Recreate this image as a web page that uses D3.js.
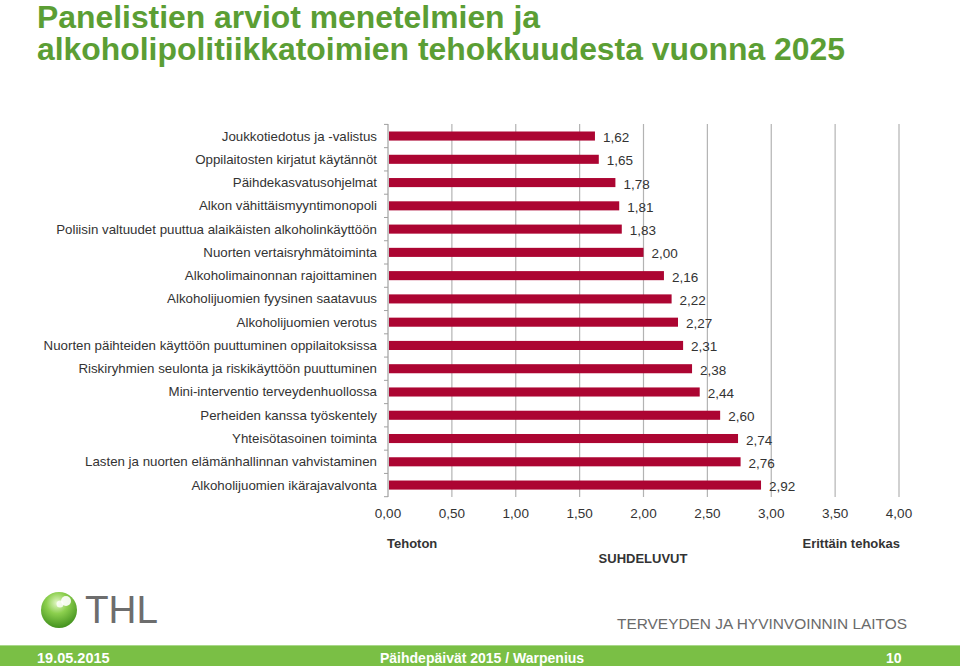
<!DOCTYPE html>
<html><head><meta charset="utf-8">
<script src="https://cdn.jsdelivr.net/npm/d3@7"></script>
<style>
html,body{margin:0;padding:0;background:#fff;}
svg{display:block;font-family:"Liberation Sans",Arial,sans-serif;}
</style></head>
<body>
<svg id="c" width="960" height="666"></svg>
<script>
const categories = [
  "Joukkotiedotus ja -valistus",
  "Oppilaitosten kirjatut käytännöt",
  "Päihdekasvatusohjelmat",
  "Alkon vähittäismyyntimonopoli",
  "Poliisin valtuudet puuttua alaikäisten alkoholinkäyttöön",
  "Nuorten vertaisryhmätoiminta",
  "Alkoholimainonnan rajoittaminen",
  "Alkoholijuomien fyysinen saatavuus",
  "Alkoholijuomien verotus",
  "Nuorten päihteiden käyttöön puuttuminen oppilaitoksissa",
  "Riskiryhmien seulonta ja riskikäyttöön puuttuminen",
  "Mini-interventio terveydenhuollossa",
  "Perheiden kanssa työskentely",
  "Yhteisötasoinen toiminta",
  "Lasten ja nuorten elämänhallinnan vahvistaminen",
  "Alkoholijuomien ikärajavalvonta"
];
const values = [1.62,1.65,1.78,1.81,1.83,2.00,2.16,2.22,2.27,2.31,2.38,2.44,2.60,2.74,2.76,2.92];
const xTicks = [0,0.5,1,1.5,2,2.5,3,3.5,4];
const titleLines = ["Panelistien arviot menetelmien ja","alkoholipolitiikkatoimien tehokkuudesta vuonna 2025"];
const titleWidths = [503, 808];

const svg = d3.select("#c");
const fmt = v => d3.format(".2f")(v).replace(".", ",");
const x = d3.scaleLinear().domain([0,4]).range([388,899]);
const y = d3.scaleBand().domain(categories).range([124.4,496.7]).paddingInner(0.61).paddingOuter(0.305);
const green = "#5b9e34";

// Title
svg.selectAll("text.title").data(titleLines).join("text")
  .attr("class","title")
  .attr("x",37).attr("y",(d,i)=>28+i*32)
  .attr("fill",green).attr("font-weight","bold").attr("font-size",31)
  .attr("textLength",(d,i)=>titleWidths[i]).attr("lengthAdjust","spacingAndGlyphs")
  .text(d=>d);

// gridlines
svg.append("g").selectAll("line").data(xTicks.filter(d=>d>0)).join("line")
  .attr("x1",d=>x(d)).attr("x2",d=>x(d))
  .attr("y1",124).attr("y2",497)
  .attr("stroke","#b3b3b3").attr("stroke-width",1.2);

// y axis
const yAxisG = svg.append("g");
yAxisG.append("line").attr("x1",388).attr("x2",388).attr("y1",124).attr("y2",497).attr("stroke","#a0a0a0").attr("stroke-width",1.2);
const bounds = categories.map(c=>y(c)-y.step()*y.paddingInner()/2).concat([496.7]);
yAxisG.selectAll("line.t").data(bounds).join("line").attr("class","t")
  .attr("x1",384).attr("x2",388).attr("y1",d=>d).attr("y2",d=>d)
  .attr("stroke","#a0a0a0").attr("stroke-width",1);

// bars
const data = categories.map((c,i)=>({c, v: values[i]}));
svg.append("g").selectAll("rect").data(data).join("rect")
  .attr("x",x(0)+1).attr("y",d=>y(d.c))
  .attr("width",d=>x(d.v)-x(0)-1).attr("height",y.bandwidth())
  .attr("fill","#ac0532");

// value labels
svg.append("g").selectAll("text").data(data).join("text")
  .attr("x",d=>x(d.v)+8).attr("y",d=>y(d.c)+y.bandwidth()/2+6)
  .attr("font-size",13.5).attr("fill","#333")
  .text(d=>fmt(d.v));

// category labels
svg.append("g").selectAll("text").data(data).join("text")
  .attr("x",377).attr("y",d=>y(d.c)+y.bandwidth()/2+4.5)
  .attr("text-anchor","end").attr("font-size",13.3).attr("fill","#333")
  .text(d=>d.c);

// x tick labels
svg.append("g").selectAll("text").data(xTicks).join("text")
  .attr("x",d=>x(d)).attr("y",518)
  .attr("text-anchor","middle").attr("font-size",13.5).attr("fill","#333")
  .text(d=>fmt(d));

// scale annotations
svg.append("text").attr("x",387).attr("y",548).attr("font-weight","bold").attr("font-size",13).attr("fill","#333").text("Tehoton");
svg.append("text").attr("x",643).attr("y",563).attr("text-anchor","middle").attr("font-weight","bold").attr("font-size",13).attr("fill","#333").text("SUHDELUVUT");
svg.append("text").attr("x",900).attr("y",548).attr("text-anchor","end").attr("font-weight","bold").attr("font-size",13).attr("fill","#333").text("Erittäin tehokas");

// THL logo
const defs = svg.append("defs");
const rg = defs.append("radialGradient").attr("id","sph").attr("cx","45%").attr("cy","30%").attr("r","75%");
rg.append("stop").attr("offset","0%").attr("stop-color","#e4f8c8");
rg.append("stop").attr("offset","40%").attr("stop-color","#8ccf4e");
rg.append("stop").attr("offset","100%").attr("stop-color","#3a8a18");
svg.append("circle").attr("cx",59).attr("cy",610).attr("r",18).attr("fill","url(#sph)");
svg.append("circle").attr("cx",66).attr("cy",601).attr("r",5).attr("fill","#fff").attr("opacity",0.9);
svg.append("circle").attr("cx",60).attr("cy",604).attr("r",3.5).attr("fill","#fff").attr("opacity",0.8);
svg.append("text").attr("x",85).attr("y",623).attr("font-size",38).attr("fill","#6d6d6d")
  .attr("textLength",73).attr("lengthAdjust","spacingAndGlyphs").text("THL");
svg.append("text").attr("x",617).attr("y",629).attr("font-size",15.5).attr("fill","#6a6a6a")
  .attr("textLength",290).attr("lengthAdjust","spacingAndGlyphs").text("TERVEYDEN JA HYVINVOINNIN LAITOS");

// footer
svg.append("rect").attr("x",0).attr("y",645).attr("width",960).attr("height",21).attr("fill","#7abf45");
svg.append("line").attr("x1",0).attr("x2",960).attr("y1",645.5).attr("y2",645.5).attr("stroke","#a9d88a");
svg.append("text").attr("x",37).attr("y",663).attr("font-size",14.5).attr("font-weight","bold").attr("fill","#fff").text("19.05.2015");
svg.append("text").attr("x",380).attr("y",663).attr("font-size",14).attr("font-weight","bold").attr("fill","#fff").text("Päihdepäivät 2015 / Warpenius");
svg.append("text").attr("x",886).attr("y",663).attr("font-size",14).attr("font-weight","bold").attr("fill","#fff").text("10");
</script>
</body></html>
